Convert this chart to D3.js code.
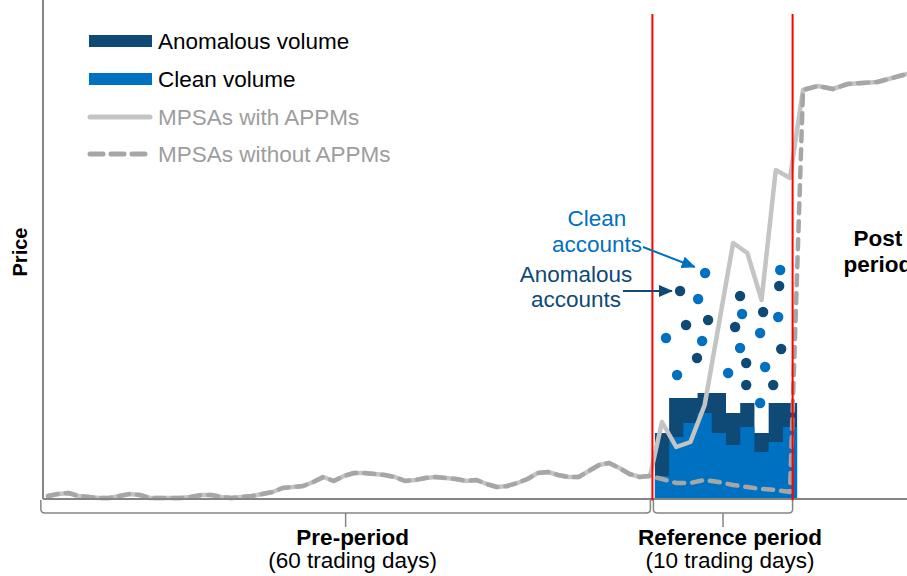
<!DOCTYPE html>
<html>
<head>
<meta charset="utf-8">
<script src="https://cdn.jsdelivr.net/npm/d3@7"></script>
<style>
  html, body { margin: 0; padding: 0; background: #fff; }
  svg { display: block; font-family: "Liberation Sans", Arial, sans-serif; }
</style>
</head>
<body>
<svg id="chart" width="907" height="576"></svg>
<script>
// ---------------- DATA ----------------
// Price (arbitrary units) for the 60 pre-period trading days (both series identical)
const prePeriodPrice = [3,5,6,3,2,1,1,3,5,4,1,1,1,1,2,4,4,2,1,2,3,5,7,11,12,13,17,22,18,23,26,26,25,24,22,18,19,21,22,21,20,18,19,15,12,13,16,20,26,27,24,22,22,28,34,36,31,25,22,23];
// Reference period (10 trading days)
const refPriceWithAPPMs    = [77,52,57,94,175,256,246,199,329,321];
const refPriceWithoutAPPMs = [20,16,16,19,17,14,12,10,9,7];
// Post period
const postPeriodPrice = [409,413,410,415,416,417,421,425];
// Volume in reference period
const cleanVolume     = [23,62,76,86,66,54,72,47,57,72];
const anomalousVolume = [43,39,25,20,40,32,24,19,39,24];
// Accounts scatter: [trading day, value]
const anomalousAccounts = [[61.27,208],[61.69,174],[63.24,179],[62.46,141],[65.49,203],[65.14,172],[67.11,187],[65.92,136],[65.92,114],[68.24,213],[68.38,150],[67.82,114]];
const cleanAccounts = [[63.03,226],[62.54,200],[60.28,161],[62.82,158],[61.06,124],[64.65,126],[65.63,185],[65.49,151],[66.90,166],[67.25,132],[68.31,229],[68.17,182],[66.90,96]];
// Period boundaries (in trading days) and labels
const periodBounds = [-0.7, 59.2, 69.2];
const periodLabels = [["Pre-period","(60 trading days)"],["Reference period","(10 trading days)"]];
const legendItems = ["Anomalous volume","Clean volume","MPSAs with APPMs","MPSAs without APPMs"];

// ---------------- LAYOUT ----------------
const svg = d3.select("#chart");
const COL_ANOM = "#0e4a75", COL_CLEAN = "#0070c0";
const COL_SOLID = "#c4c4c4", COL_DASH = "#a6a6a6", COL_AXIS = "#858585";
const FS = 22.5;

const x = d3.scaleLinear().domain([0,59,60,69,70,77]).range([48,650,662,790,803,907]);
const y = d3.scaleLinear().domain([0,485]).range([499,14]);

const withSeries = prePeriodPrice.concat(refPriceWithAPPMs, postPeriodPrice).map((v,i)=>[i,v]);
const withoutSeries = prePeriodPrice.concat(refPriceWithoutAPPMs, postPeriodPrice).map((v,i)=>[i,v]);

// Volume as stepped areas (no seams)
const half = (x(69)-x(60))/9/2;
function stepPts(vals) {
  const pts = vals.map((v,i)=>[x(60+i)-half, v]);
  pts.push([x(60+vals.length-1)+half, vals[vals.length-1]]);
  return pts;
}
const area = d3.area().curve(d3.curveStepAfter).x(d=>d[0]).y0(y(0)).y1(d=>y(d[1]));
const totalVolume = cleanVolume.map((c,i)=>c+anomalousVolume[i]);
svg.append("path").attr("d", area(stepPts(totalVolume))).attr("fill", COL_ANOM);
svg.append("path").attr("d", area(stepPts(cleanVolume))).attr("fill", COL_CLEAN);

// Lines
const line = d3.line().x(d=>x(d[0])).y(d=>y(d[1]));
svg.append("path").attr("d", line(withSeries)).attr("fill","none")
  .attr("stroke", COL_SOLID).attr("stroke-width",4.5).attr("stroke-linejoin","round").attr("stroke-linecap","round");
svg.append("path").attr("d", line(withoutSeries)).attr("fill","none")
  .attr("stroke", COL_DASH).attr("stroke-width",4.5).attr("stroke-linejoin","round").attr("stroke-linecap","round")
  .attr("stroke-dasharray","10,8");

// Account dots
svg.append("g").selectAll("circle").data(anomalousAccounts).join("circle")
  .attr("cx", d=>x(d[0])).attr("cy", d=>y(d[1])).attr("r",5.2).attr("fill", COL_ANOM);
svg.append("g").selectAll("circle").data(cleanAccounts).join("circle")
  .attr("cx", d=>x(d[0])).attr("cy", d=>y(d[1])).attr("r",5.2).attr("fill", COL_CLEAN);

// Axes
svg.append("line").attr("x1",43).attr("x2",43).attr("y1",0).attr("y2",y(0))
  .attr("stroke",COL_AXIS).attr("stroke-width",2);
svg.append("line").attr("x1",43).attr("x2",907).attr("y1",y(0)).attr("y2",y(0))
  .attr("stroke",COL_AXIS).attr("stroke-width",2.2);

// Red boundary lines
[periodBounds[1], periodBounds[2]].forEach(b=>{
  svg.append("line").attr("x1",x(b)).attr("x2",x(b)).attr("y1",y(485)).attr("y2",y(0)+1.5)
    .attr("stroke","#ff0000").attr("stroke-width",2);
});

// Brackets
function bracket(x0, x1, label) {
  const top = y(0)+1, hy = 513, r = 4, mid = (x0+x1)/2;
  svg.append("path")
    .attr("d", `M${x0},${top} L${x0},${hy-r} Q${x0},${hy} ${x0+r},${hy} L${x1-r},${hy} Q${x1},${hy} ${x1},${hy-r} L${x1},${top}`)
    .attr("fill","none").attr("stroke",COL_AXIS).attr("stroke-width",1.5);
  svg.append("line").attr("x1",mid).attr("x2",mid).attr("y1",hy).attr("y2",527)
    .attr("stroke",COL_AXIS).attr("stroke-width",1.5);
  svg.append("text").attr("x",mid+7).attr("y",545).attr("text-anchor","middle")
    .attr("font-size",FS).attr("font-weight","bold").attr("fill","#000").text(label[0]);
  svg.append("text").attr("x",mid+7).attr("y",568).attr("text-anchor","middle")
    .attr("font-size",FS).attr("fill","#000").text(label[1]);
}
bracket(x(periodBounds[0]), x(periodBounds[1])-2, periodLabels[0]);
bracket(x(periodBounds[1])+1, x(periodBounds[2]), periodLabels[1]);

// Post period label
svg.append("text").attr("x",878).attr("y",246).attr("text-anchor","middle")
  .attr("font-size",FS).attr("font-weight","bold").text("Post");
svg.append("text").attr("x",878).attr("y",272).attr("text-anchor","middle")
  .attr("font-size",FS).attr("font-weight","bold").text("period");

// Y axis title
svg.append("text").attr("transform","translate(27,252) rotate(-90)").attr("text-anchor","middle")
  .attr("font-size",20).attr("font-weight","bold").text("Price");

// Legend
const lg = svg.append("g");
lg.append("rect").attr("x",89).attr("y",35).attr("width",63).attr("height",12).attr("fill",COL_ANOM);
lg.append("rect").attr("x",89).attr("y",73).attr("width",63).attr("height",12).attr("fill",COL_CLEAN);
lg.append("line").attr("x1",90).attr("x2",150).attr("y1",117).attr("y2",117)
  .attr("stroke",COL_SOLID).attr("stroke-width",5).attr("stroke-linecap","round");
lg.append("line").attr("x1",90).attr("x2",146).attr("y1",154).attr("y2",154)
  .attr("stroke",COL_DASH).attr("stroke-width",5).attr("stroke-linecap","round").attr("stroke-dasharray","13,8");
const legendY = [41,79,117,154];
const legendColors = ["#000","#000","#9d9d9d","#9d9d9d"];
legendItems.forEach((t,i)=>{
  lg.append("text").attr("x",158).attr("y",legendY[i]).attr("dy","0.35em")
    .attr("font-size",FS).attr("fill",legendColors[i]).text(t);
});

// Annotations
const defs = svg.append("defs");
[["arrClean",COL_CLEAN],["arrAnom",COL_ANOM]].forEach(([id,c])=>{
  defs.append("marker").attr("id",id).attr("viewBox","0 0 14 12").attr("refX",13).attr("refY",6)
    .attr("markerWidth",14).attr("markerHeight",12).attr("markerUnits","userSpaceOnUse").attr("orient","auto")
    .append("path").attr("d","M0,0 L14,6 L0,12 Z").attr("fill",c);
});
svg.append("text").attr("x",597).attr("y",226).attr("text-anchor","middle").attr("font-size",FS).attr("fill",COL_CLEAN).text("Clean");
svg.append("text").attr("x",597).attr("y",252).attr("text-anchor","middle").attr("font-size",FS).attr("fill",COL_CLEAN).text("accounts");
svg.append("line").attr("x1",643).attr("y1",247).attr("x2",x(62.3)).attr("y2",y(232))
  .attr("stroke",COL_CLEAN).attr("stroke-width",2).attr("marker-end","url(#arrClean)");
svg.append("text").attr("x",576).attr("y",282).attr("text-anchor","middle").attr("font-size",FS).attr("fill",COL_ANOM).text("Anomalous");
svg.append("text").attr("x",576).attr("y",307).attr("text-anchor","middle").attr("font-size",FS).attr("fill",COL_ANOM).text("accounts");
svg.append("line").attr("x1",623).attr("y1",291).attr("x2",x(60.7)).attr("y2",y(208))
  .attr("stroke",COL_ANOM).attr("stroke-width",2).attr("marker-end","url(#arrAnom)");
</script>
</body>
</html>
